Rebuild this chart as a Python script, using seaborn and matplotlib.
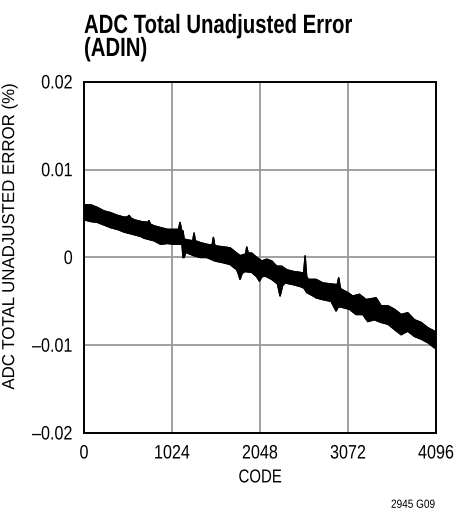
import matplotlib
matplotlib.use("Agg")
import matplotlib.pyplot as plt
import seaborn as sns
import pandas as pd
import numpy as np
from matplotlib.patheffects import AbstractPathEffect
from matplotlib.transforms import Affine2D

upper_codes = [0, 78, 155, 233, 310, 388, 465, 505, 524, 545, 582, 659, 740, 756, 772,
               815, 892, 970, 1047, 1100, 1117, 1135, 1152, 1164, 1203, 1265, 1280, 1295,
               1350, 1428, 1490, 1505, 1520, 1544, 1621, 1699, 1777, 1815, 1880, 1893,
               1910, 1951, 2009, 2067, 2126, 2184, 2242, 2300, 2358, 2436, 2513, 2555,
               2572, 2590, 2610, 2700, 2777, 2855, 2945, 2963, 2980, 2990, 3068, 3126,
               3204, 3281, 3398, 3456, 3534, 3611, 3689, 3766, 3844, 3921, 3999, 4076, 4096]
upper_vals = [0.0060, 0.0060, 0.0057, 0.0053, 0.0051, 0.0048, 0.0046, 0.0046, 0.0048,
              0.0045, 0.0043, 0.0041, 0.0040, 0.0042, 0.0038, 0.0036, 0.0034, 0.0032,
              0.0032, 0.0032, 0.0040, 0.0031, 0.0030, 0.0021, 0.0020, 0.0019, 0.0028,
              0.0019, 0.0017, 0.0015, 0.0014, 0.0023, 0.0014, 0.0013, 0.0012, 0.0011,
              0.0005, 0.0002, 0.0004, 0.0012, 0.0005, 0.0005, 0.0000, -0.0004, -0.0002,
              -0.0004, -0.0010, -0.0010, -0.0014, -0.0016, -0.0017, -0.0018, 0.0002,
              -0.0022, -0.0025, -0.0025, -0.0029, -0.0030, -0.0031, -0.0023, -0.0034,
              -0.0036, -0.0040, -0.0044, -0.0042, -0.0048, -0.0046, -0.0055, -0.0055,
              -0.0059, -0.0065, -0.0063, -0.0071, -0.0074, -0.0080, -0.0084, -0.0085]

# Lower edge of the band
lower_codes = [0, 78, 155, 233, 310, 388, 465, 582, 659, 698, 815, 892, 970, 1047, 1117,
               1140, 1152, 1164, 1185, 1203, 1280, 1350, 1428, 1524, 1621, 1699, 1777,
               1800, 1815, 1840, 1873, 1951, 2009, 2040, 2070, 2106, 2184, 2250, 2281,
               2310, 2339, 2436, 2513, 2560, 2591, 2668, 2700, 2777, 2874, 2932, 2960,
               3010, 3087, 3165, 3243, 3301, 3378, 3456, 3534, 3611, 3689, 3766, 3844,
               3921, 3999, 4076, 4096]
lower_vals = [0.0043, 0.0041, 0.0040, 0.0037, 0.0034, 0.0032, 0.0029, 0.0026, 0.0024,
              0.0022, 0.0019, 0.0015, 0.0016, 0.0015, 0.0015, 0.0015, 0.0000, 0.0000,
              0.0006, 0.0005, 0.0002, 0.0000, 0.0000, -0.0004, -0.0006, -0.0008,
              -0.0014, -0.0020, -0.0025, -0.0018, -0.0016, -0.0017, -0.0022, -0.0027,
              -0.0022, -0.0021, -0.0025, -0.0030, -0.0044, -0.0032, -0.0029, -0.0031,
              -0.0033, -0.0035, -0.0040, -0.0044, -0.0046, -0.0048, -0.0050, -0.0061,
              -0.0056, -0.0057, -0.0059, -0.0065, -0.0065, -0.0073, -0.0071, -0.0074,
              -0.0076, -0.0082, -0.0088, -0.0084, -0.0090, -0.0093, -0.0097, -0.0103,
              -0.0102]

x_ticks = [0, 1024, 2048, 3072, 4096]
y_ticks = [-0.02, -0.01, 0, 0.01, 0.02]
y_tick_labels = ["\u20130.02", "\u20130.01", "0", "0.01", "0.02"]

title = "ADC Total Unadjusted Error\n(ADIN)"
xlabel = "CODE"
ylabel = "ADC TOTAL UNADJUSTED ERROR (%)"
note = "2945 G09"


class Condense(AbstractPathEffect):
    """Draw text horizontally narrowed (like a condensed face)."""

    def __init__(self, sx=0.8, anchor="left"):
        super().__init__()
        self.sx = sx
        self.anchor = anchor

    def draw_path(self, renderer, gc, tpath, affine, rgbFace=None):
        ext = tpath.get_extents()
        if self.anchor == "left":
            cx = 0.0
        elif self.anchor == "right":
            cx = ext.x1
        else:
            cx = (ext.x0 + ext.x1) / 2
        pre = Affine2D().translate(-cx, 0).scale(self.sx, 1).translate(cx, 0)
        renderer.draw_path(gc, tpath, pre + affine, rgbFace)


sns.set_theme(style="white")
plt.rcParams["font.family"] = ["Liberation Sans", "DejaVu Sans"]

up = pd.DataFrame({"code": upper_codes, "err": upper_vals})
lo = pd.DataFrame({"code": lower_codes, "err": lower_vals})
band = pd.concat([up, lo.iloc[::-1]], ignore_index=True)

fig = plt.figure(figsize=(4.72, 5.17), dpi=100)
ax = fig.add_axes([0.178, 0.1625, 0.746, 0.679])

ax.fill(band["code"], band["err"], color="black", lw=1.0, zorder=3)
sns.lineplot(data=up, x="code", y="err", color="black", lw=1.0, ax=ax, zorder=4)
sns.lineplot(data=lo, x="code", y="err", color="black", lw=1.0, ax=ax, zorder=4)

ax.set_xlim(0, 4096)
ax.set_ylim(-0.02, 0.02)
ax.set_xticks(x_ticks)
ax.set_xticklabels([str(t) for t in x_ticks])
ax.set_yticks(y_ticks)
ax.set_yticklabels(y_tick_labels)
ax.grid(True, color="#999999", lw=1.3)
ax.tick_params(axis="both", length=0, labelsize=14, colors="black")
ax.tick_params(axis="y", pad=8)
ax.tick_params(axis="x", pad=9)
for s in ax.spines.values():
    s.set_color("black")
    s.set_linewidth(1.4)
    s.set_zorder(5)
for t in ax.get_xticklabels():
    t.set_path_effects([Condense(0.83, "center")])
for t in ax.get_yticklabels():
    t.set_path_effects([Condense(0.83, "right")])

ax.set_xlabel(xlabel, fontsize=13.5, color="black", labelpad=5)
ax.xaxis.label.set_path_effects([Condense(0.8, "center")])
ax.set_ylabel(ylabel, fontsize=12.5, color="black")
ax.yaxis.set_label_coords(-0.19, 0.56)
ax.yaxis.label.set_path_effects([Condense(0.97, "center")])

fig.text(0.178, 0.882, title, fontsize=19, fontweight="bold", ha="left",
         va="bottom", color="black", linespacing=0.95,
         path_effects=[Condense(0.77, "left")])
fig.text(0.922, 0.012, note, fontsize=8.5, ha="right", va="bottom", color="black",
         path_effects=[Condense(0.85, "right")])

fig.savefig("out.png", dpi=100)
